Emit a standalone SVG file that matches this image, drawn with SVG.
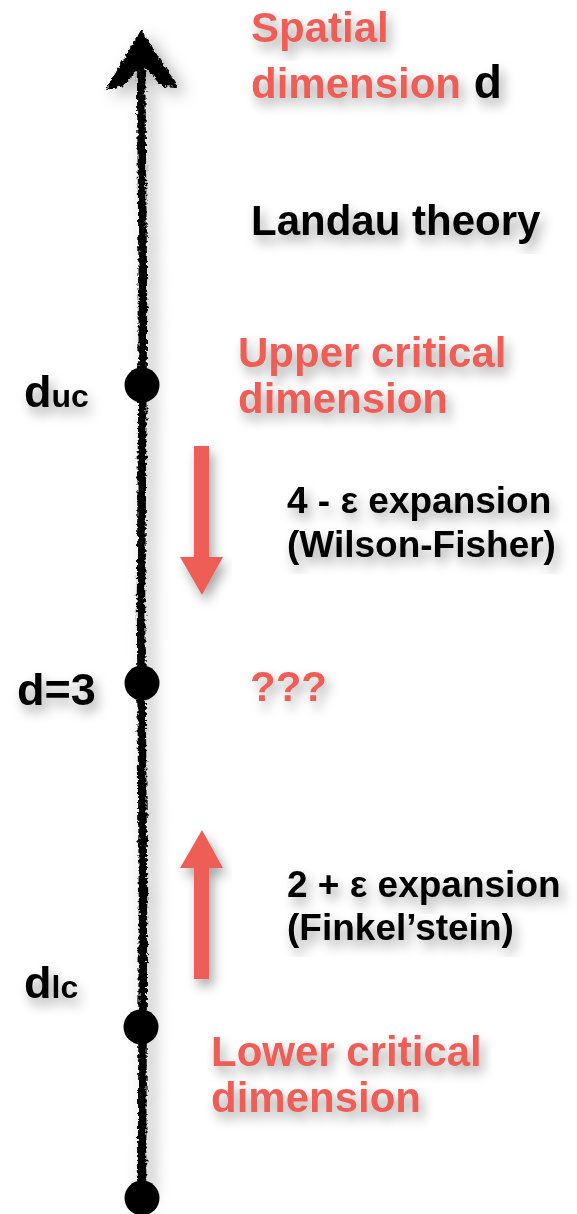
<svg xmlns="http://www.w3.org/2000/svg" width="577" height="1214" viewBox="0 0 577 1214">
<defs>
<filter id="shadow" x="-20%" y="-20%" width="140%" height="140%">
<feDropShadow dx="4" dy="7" stdDeviation="6" flood-color="#000" flood-opacity="0.35"/>
</filter>
<filter id="rough" x="-50%" y="-5%" width="200%" height="110%">
<feTurbulence type="fractalNoise" baseFrequency="0.3" numOctaves="2" seed="3" result="n"/>
<feDisplacementMap in="SourceGraphic" in2="n" scale="6" xChannelSelector="R" yChannelSelector="G" result="d"/>
<feDropShadow dx="7" dy="6" stdDeviation="8" flood-color="#000" flood-opacity="0.3"/>
</filter>
</defs>
<style>
.red{fill:#EE5D57;font-family:"Liberation Sans",Arial,sans-serif;font-weight:bold;font-size:42px}
.blk{fill:#000;font-family:"Liberation Sans",Arial,sans-serif;font-weight:bold;font-size:46px}
.blkl{fill:#000;font-family:"Liberation Sans",Arial,sans-serif;font-weight:bold;font-size:42px}
.sm{fill:#000;font-family:"Liberation Sans",Arial,sans-serif;font-weight:bold;font-size:37px}
.lab{fill:#000;font-family:"Liberation Sans",Arial,sans-serif;font-weight:bold;font-size:45px}
.dot{fill:#000}
.rarrow{fill:#EE5D57}
text{filter:url(#shadow)}
</style>
<g id="connectors">
<g id="axis" filter="url(#rough)">
<path d="M142,1195 L143,900 L141,600 L143,300 L141,60" fill="none" stroke="#000" stroke-width="8.5"/>
<path d="M141,30 L178,87 L161,86 L142,63 L124,86 L106,89 Z" fill="#000"/>
</g>
<g id="arrow-down" filter="url(#shadow)">
<path class="rarrow" d="M194,446 L209,446 L209,557 L223,557 L202,595 L180,557 L194,557 Z"/>
</g>
<g id="arrow-up" filter="url(#shadow)">
<path class="rarrow" d="M194,979 L209,979 L209,868 L223,868 L202,830 L180,868 L194,868 Z"/>
</g>
</g>
<g id="node-duc">
<circle class="dot" cx="142" cy="385" r="17.5"/>
<text class="lab" x="24" y="407">d<tspan font-size="32">uc</tspan></text>
</g>
<g id="node-d3">
<circle class="dot" cx="142" cy="683" r="17.5"/>
<text class="lab" x="17" y="705">d=3</text>
</g>
<g id="node-dlc">
<circle class="dot" cx="141" cy="1027" r="17.5"/>
<text class="lab" x="24" y="998">d<tspan font-size="32">lc</tspan></text>
</g>
<g id="node-bottom">
<circle class="dot" cx="142" cy="1198" r="17.5"/>
</g>
<g id="title">
<text class="red" x="251" y="42">Spatial</text>
<text x="251" y="98"><tspan class="red">dimension</tspan><tspan class="blk"> d</tspan></text>
</g>
<g id="landau">
<text class="blkl" x="251" y="235">Landau theory</text>
</g>
<g id="upper">
<text class="red" x="238" y="367">Upper critical</text>
<text class="red" x="238" y="413">dimension</text>
</g>
<g id="wf">
<text class="sm" x="287" y="513">4 - ε expansion</text>
<text class="sm" x="287" y="557">(Wilson-Fisher)</text>
</g>
<g id="unknown">
<text class="red" x="250" y="701">???</text>
</g>
<g id="fink">
<text class="sm" x="287" y="897">2 + ε expansion</text>
<text class="sm" x="287" y="940">(Finkel’stein)</text>
</g>
<g id="lower">
<text class="red" x="211" y="1066">Lower critical</text>
<text class="red" x="211" y="1112">dimension</text>
</g>
</svg>
